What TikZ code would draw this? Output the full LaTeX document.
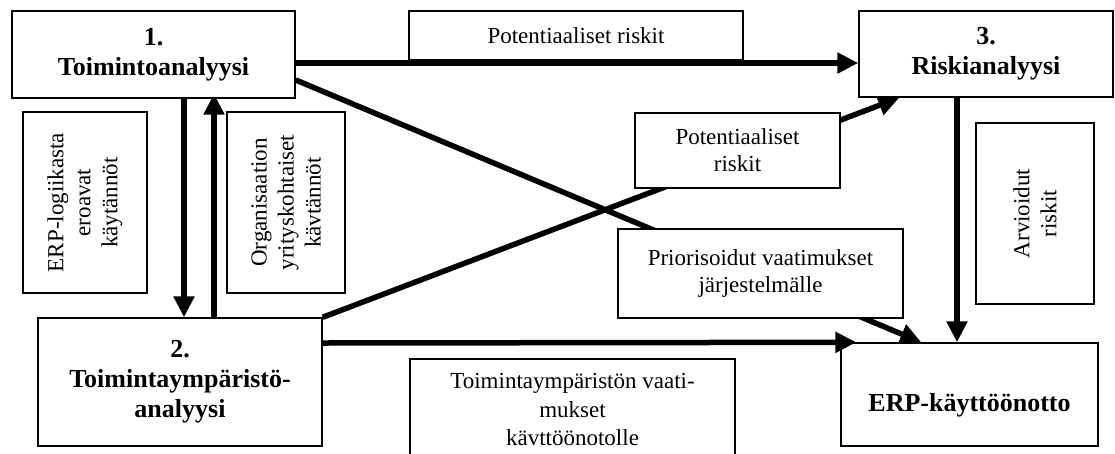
\documentclass[tikz,border=0pt]{standalone}
\usepackage{fontspec}
\setmainfont{Liberation Serif}
\usetikzlibrary{arrows.meta,backgrounds}
\begin{document}
\begin{tikzpicture}[x=1pt,y=-1pt,
  box/.style={draw, line width=1.4pt, fill=white, inner sep=0pt, align=center},
  lbl/.style={font=\fontsize{23}{27}\selectfont},
  head/.style={font=\fontsize{26}{30}\selectfont\bfseries},
  flow/.style={line width=5.5pt, -{Triangle[length=21pt,width=20pt]}}]
\useasboundingbox (0,0) rectangle (1115,453);

% main phases
\node[box, head, minimum width=283pt, minimum height=87pt] (t1) at (153.5,54.5) {1.\\Toimintoanalyysi};
\node[box, head, minimum width=284pt, minimum height=128pt] (t2) at (180,382) {2.\\Toimintaympäristö-\\analyysi};
\node[box, head, minimum width=254pt, minimum height=86pt] (t3) at (986,54) {3.\\Riskianalyysi};
\node[box, minimum width=257pt, minimum height=103pt] (erp) at (969.5,394.5) {};
\node[head] (erpt) at ([yshift=-11pt]erp.center) {ERP-käyttöönotto};

% information passed between phases
\node[box, lbl, rotate=90, minimum width=181pt, minimum height=124pt] (erpl) at (85,202.5) {ERP-logiikasta\\eroavat\\käytännöt};
\node[box, lbl, rotate=90, minimum width=181pt, minimum height=118pt] (org) at (286,202.5) {Organisaation\\yrityskohtaiset\\kävtännöt};
\node[box, lbl, minimum width=334pt, minimum height=49pt] (pr1) at (576,35.5) {Potentiaaliset riskit};
\node[box, lbl, minimum width=205pt, minimum height=75pt] (pr2) at (737.5,150.5) {Potentiaaliset\\riskit};
\node[box, lbl, minimum width=285pt, minimum height=89pt] (prio) at (760.5,273.5) {Priorisoidut vaatimukset\\järjestelmälle};
\node[box, lbl, rotate=90, minimum width=181pt, minimum height=118pt] (arv) at (1035,213.5) {Arvioidut\\riskit};
\node[box, lbl, font=\fontsize{23}{28.5}\selectfont, minimum width=325pt, minimum height=101pt] (tvaat) at (572.5,409.5) {Toimintaympäristön vaati-\\mukset\\kävttöönotolle};

% connectors behind the boxes
\begin{scope}[on background layer]
  \draw[flow] ([yshift=-8.5pt]t1.east) -- ([yshift=-9pt]t3.west);
  \draw[flow] ([xshift=30.5pt]t1.south) -- ([xshift=4pt]t2.north);
  \draw[flow] ([xshift=34pt]t2.north) -- ([xshift=60.5pt,yshift=5pt]t1.south);
  \draw[flow] ([yshift=-25.5pt]t1.east) -- ([xshift=81pt]erp.north west);
  \draw[flow] (t2.north east) -- ([xshift=41pt]t3.south west);
  \draw[flow] ([xshift=-29pt]t3.south) -- ([xshift=-12.5pt]erp.north);
\end{scope}
% this arrow meets the corner of the target box and stays on top
\draw[flow] ([yshift=39pt]t2.east) -- ([xshift=16pt]erp.north west);
\end{tikzpicture}
\end{document}
